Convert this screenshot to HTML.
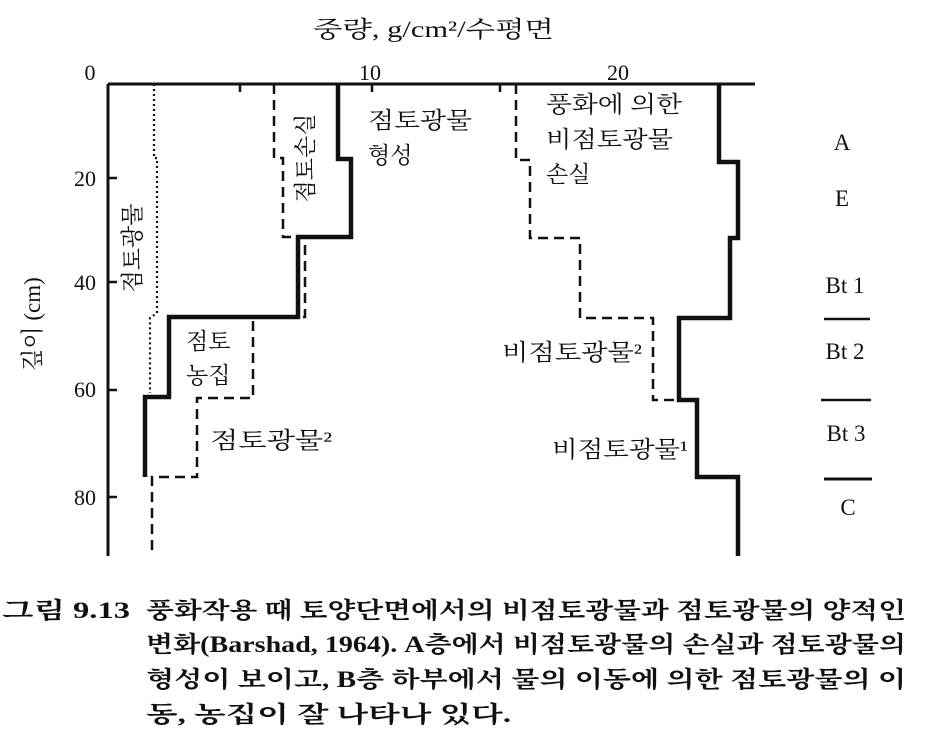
<!DOCTYPE html>
<html><head><meta charset="utf-8"><style>
html,body{margin:0;padding:0;background:#fff;}
svg{display:block}
text{font-family:"Liberation Serif","Noto Serif CJK SC","Noto Sans CJK KR",serif;fill:#111}
.k{font-family:"Liberation Serif","Noto Serif CJK SC",serif}
</style></head><body>
<svg width="935" height="730" viewBox="0 0 935 730" xmlns="http://www.w3.org/2000/svg">
<g fill="none" stroke="#111" stroke-linejoin="miter">
<line x1="108" y1="84" x2="755" y2="84" stroke-width="3"/>
<line x1="108" y1="84" x2="108" y2="556" stroke-width="3"/>
<g stroke-width="2.5">
<line x1="108" y1="178" x2="117" y2="178"/><line x1="108" y1="282" x2="117" y2="282"/>
<line x1="108" y1="390" x2="117" y2="390"/><line x1="108" y1="497" x2="117" y2="497"/>
<line x1="240" y1="84" x2="240" y2="92"/><line x1="372" y1="84" x2="372" y2="92"/>
<line x1="500" y1="84" x2="500" y2="92"/>
</g>
<polyline points="154,84 154,158 157,158 157,313 150,318 150,393" stroke-width="2.2" stroke-dasharray="2,3"/>
<polyline points="338,84 338,159 351,159 351,237 298,237 298,317 169,317 169,397 145,397 145,477" stroke-width="4.5"/>
<polyline points="274,84 274,158 283,158 283,237 305,237 305,317 253,317 253,398 197,398 197,477 152,477 152,556" stroke-width="2.5" stroke-dasharray="10,6"/>
<polyline points="719,84 719,162 738,162 738,238 730,238 730,318 679,318 679,400 697,400 697,477 738,477 738,556" stroke-width="4.5"/>
<polyline points="516,84 516,160 530,160 530,238 580,238 580,318 653,318 653,400 679,400" stroke-width="2.5" stroke-dasharray="10,6"/>
<line x1="824" y1="319" x2="870" y2="319" stroke-width="2.5"/>
<line x1="821" y1="400" x2="871" y2="400" stroke-width="2.5"/>
<line x1="824" y1="479" x2="872" y2="479" stroke-width="3"/>
</g>
<text x="313" y="37" font-size="23" textLength="241" lengthAdjust="spacingAndGlyphs">중량, g/cm²/수평면</text>
<text x="90" y="80" font-size="22" text-anchor="middle">0</text>
<text x="370" y="80" font-size="22" text-anchor="middle">10</text>
<text x="618" y="80" font-size="22" text-anchor="middle">20</text>
<g font-size="22" text-anchor="middle">
<text x="85" y="186">20</text><text x="85" y="290">40</text>
<text x="85" y="397">60</text><text x="85" y="505">80</text>
</g>
<text transform="translate(40,324) rotate(-90)" font-size="23" text-anchor="middle">깊이 (cm)</text>
<text transform="translate(140,248) rotate(-90)" font-size="23" text-anchor="middle" class="k">점토광물</text>
<text transform="translate(313,158) rotate(-90)" font-size="23" text-anchor="middle" class="k">점토손실</text>
<g font-size="23" class="k">
<text x="368" y="128" textLength="104" lengthAdjust="spacingAndGlyphs">점토광물</text><text x="368" y="163">형성</text>
<text x="546" y="112" textLength="136" lengthAdjust="spacingAndGlyphs">풍화에 의한</text><text x="546" y="147" textLength="127" lengthAdjust="spacingAndGlyphs">비점토광물</text><text x="546" y="182">손실</text>
<text x="186" y="349">점토</text><text x="186" y="383">농집</text>
<text x="210" y="448" textLength="122" lengthAdjust="spacingAndGlyphs">점토광물²</text>
<text x="502" y="360" textLength="140" lengthAdjust="spacingAndGlyphs">비점토광물²</text>
<text x="552" y="457" textLength="136" lengthAdjust="spacingAndGlyphs">비점토광물¹</text>
</g>
<g font-size="23" text-anchor="middle">
<text x="842" y="150">A</text><text x="842" y="206">E</text>
<text x="845" y="293">Bt 1</text><text x="845" y="359">Bt 2</text>
<text x="846" y="441">Bt 3</text><text x="848" y="515">C</text>
</g>
<g font-size="23" class="k" font-weight="bold">
<text x="2" y="618" textLength="128" lengthAdjust="spacingAndGlyphs">그림 9.13</text>
<text x="146" y="618" textLength="760" lengthAdjust="spacingAndGlyphs">풍화작용 때 토양단면에서의 비점토광물과 점토광물의 양적인</text>
<text x="146" y="652" textLength="760" lengthAdjust="spacingAndGlyphs">변화(Barshad, 1964). A층에서 비점토광물의 손실과 점토광물의</text>
<text x="146" y="687" textLength="760" lengthAdjust="spacingAndGlyphs">형성이 보이고, B층 하부에서 물의 이동에 의한 점토광물의 이</text>
<text x="146" y="722" textLength="365" lengthAdjust="spacingAndGlyphs">동, 농집이 잘 나타나 있다.</text>
</g>
</svg>
</body></html>
